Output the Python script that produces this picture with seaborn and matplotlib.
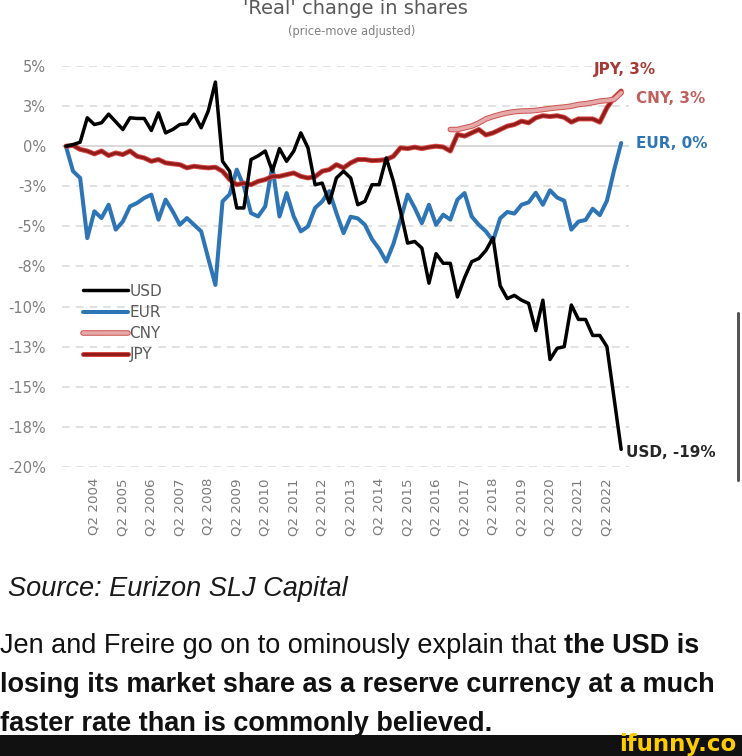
import matplotlib
matplotlib.use("Agg")
import matplotlib.pyplot as plt
import matplotlib.patheffects as pe
from matplotlib.patches import Rectangle, FancyBboxPatch
import seaborn as sns

# ---------------- data ----------------
quarters = [f"Q{q} {yr}" for yr in range(2003, 2023) for q in (1, 2, 3, 4)][1:]  # Q2 2003 .. Q4 2022

usd = [0, 0.1, 0.25, 1.77, 1.35, 1.46, 2.0, 1.52, 1.04, 1.77,
       1.73, 1.73, 0.98, 2.08, 0.83, 1.04, 1.35, 1.4, 2.0, 1.15,
       2.2, 4.0, -0.94, -1.56, -3.85, -3.85, -0.83, -0.6, -0.3, -1.56,
       -0.15, -0.94, -0.31, 0.83, -0.1, -2.4, -2.3, -3.54, -1.98, -1.56,
       -1.98, -3.65, -3.44, -2.4, -2.4, -0.73, -2.19, -4.06, -6.04, -5.94,
       -6.35, -8.54, -6.7, -7.3, -7.3, -9.4, -8.2, -7.2, -7.0, -6.5,
       -5.7, -8.7, -9.5, -9.3, -9.6, -9.8, -11.5, -9.6, -13.3, -12.6,
       -12.5, -9.9, -10.8, -10.8, -11.8, -11.8, -12.5, -15.7, -18.9]

eur = [0, -1.56, -1.98, -5.73, -4.06, -4.48, -3.65, -5.2, -4.69, -3.75,
       -3.54, -3.23, -3.02, -4.58, -3.33, -4.06, -4.9, -4.48, -4.9, -5.31,
       -7.0, -8.65, -3.44, -3.0, -1.46, -2.5, -4.17, -4.38, -3.75, -1.25,
       -4.38, -2.92, -4.38, -5.31, -5.0, -3.85, -3.44, -2.8, -4.17, -5.42,
       -4.4, -4.5, -4.9, -5.8, -6.4, -7.19, -6.1, -4.6, -3.02, -3.85,
       -4.8, -3.65, -4.9, -4.27, -4.58, -3.33, -2.92, -4.38, -4.9, -5.31,
       -5.9, -4.5, -4.1, -4.2, -3.65, -3.5, -2.9, -3.65, -2.75, -3.2,
       -3.4, -5.2, -4.7, -4.6, -3.9, -4.3, -3.4, -1.5, 0.2]

jpy = [0, 0.05, -0.2, -0.3, -0.48, -0.3, -0.58, -0.42, -0.52, -0.3,
       -0.63, -0.73, -0.94, -0.83, -1.04, -1.1, -1.15, -1.35, -1.25, -1.31,
       -1.35, -1.31, -1.56, -2.08, -2.4, -2.3, -2.4, -2.19, -2.08, -1.88,
       -1.88, -1.77, -1.67, -1.88, -1.98, -1.9, -1.56, -1.46, -1.15, -1.35,
       -1.04, -0.83, -0.83, -0.9, -0.88, -0.83, -0.63, -0.1, -0.15, -0.06,
       -0.15, -0.06, 0.0, -0.05, -0.3, 0.73, 0.63, 0.83, 1.04, 0.7,
       0.83, 1.04, 1.25, 1.35, 1.56, 1.46, 1.77, 1.9, 1.85, 1.9,
       1.8, 1.5, 1.7, 1.7, 1.7, 1.5, 2.4, 3.02, 3.44]

cny_start = "Q4 2016"
cny = [1.04, 1.04, 1.15, 1.25, 1.45, 1.7, 1.85, 1.98, 2.08, 2.15,
       2.19, 2.2, 2.23, 2.29, 2.35, 2.4, 2.44, 2.5, 2.6, 2.65,
       2.72, 2.81, 2.85, 2.92, 3.33]

ytick_vals = [5, 2.5, 0, -2.5, -5, -7.5, -10, -12.5, -15, -17.5, -20]
ytick_labels = ["5%", "3%", "0%", "-3%", "-5%", "-8%", "-10%", "-13%", "-15%", "-18%", "-20%"]

title = "'Real' change in shares"
subtitle = "(price-move adjusted)"
source = "Source: Eurizon SLJ Capital"
body_regular = "Jen and Freire go on to ominously explain that"
body_bold_1 = "the USD is"
body_bold_2 = "losing its market share as a reserve currency at a much"
body_bold_3 = "faster rate than is commonly believed."

# ---------------- style ----------------
sns.set_style("white")
plt.rcParams["font.family"] = ["DejaVu Sans"]

W, H = 742, 756
fig = plt.figure(figsize=(W / 100, H / 100), dpi=100)
fig.patch.set_facecolor("white")

ax = fig.add_axes([62 / W, 1 - 467 / H, 567 / W, 401 / H])
ax.set_facecolor("white")

x_idx = list(range(len(quarters)))
c0 = quarters.index(cny_start)
x_cny = x_idx[c0:c0 + len(cny)]

# grid
for v in ytick_vals:
    if v == 0:
        ax.axhline(v, color="#D6D6D6", lw=1.3, ls="-", zorder=0)
    else:
        ax.axhline(v, color="#D9D9D9", lw=1.1, ls=(0, (5, 4)), zorder=0)

sns.lineplot(x=x_idx, y=eur, color="#2E75B6", lw=2.9, label="EUR", ax=ax, zorder=3)
sns.lineplot(x=x_idx, y=jpy, color="#921C1A", lw=2.2, label="JPY", ax=ax, zorder=4,
             path_effects=[pe.Stroke(linewidth=3.6, foreground="#DA4A46"), pe.Normal()])
sns.lineplot(x=x_cny, y=cny, color="#E4A9A8", lw=2.6, label="CNY", ax=ax, zorder=5,
             path_effects=[pe.Stroke(linewidth=4.0, foreground="#CC524E"), pe.Normal()])
sns.lineplot(x=x_idx, y=usd, color="#000000", lw=2.5, label="USD", ax=ax, zorder=6)

ax.set_xlim(-0.55, 79.1)
ax.set_ylim(-20, 5)
for s in ax.spines.values():
    s.set_visible(False)

ax.set_yticks(ytick_vals)
ax.set_yticklabels(ytick_labels)
xt = [i for i, q in enumerate(quarters) if q.startswith("Q2") and i > 0]
ax.set_xticks(xt)
ax.set_xticklabels([quarters[i] for i in xt], rotation=90)
ax.tick_params(axis="y", length=0, pad=11.5, labelsize=10.5, labelcolor="#7F7F7F")
ax.tick_params(axis="x", length=0, pad=8, labelsize=9.6, labelcolor="#7A7A7A")
ax.set_xlabel("")
ax.set_ylabel("")
ax.grid(False)

# legend
h, l = ax.get_legend_handles_labels()
order = ["USD", "EUR", "CNY", "JPY"]
hd = dict(zip(l, h))
leg = ax.legend([hd[k] for k in order], order, loc="upper left",
                bbox_to_anchor=(0.037, 0.457), frameon=False, fontsize=11,
                handlelength=2.95, handletextpad=0.1, labelspacing=0.4,
                borderpad=0, borderaxespad=0)
for t in leg.get_texts():
    t.set_color("#595959")

# end labels
last = x_idx[-1]
ax.annotate(f"USD, {round(usd[-1])}%", xy=(last, usd[-1]), xytext=(5, -3),
            textcoords="offset pixels", ha="left", va="center", fontsize=11,
            fontweight="bold", color="#262626")
ax.annotate(f"EUR, {round(eur[-1])}%", xy=(last, eur[-1]), xytext=(15, -1),
            textcoords="offset pixels", ha="left", va="center", fontsize=11,
            fontweight="bold", color="#2E75B6", annotation_clip=False)
ax.annotate(f"CNY, {round(cny[-1])}%", xy=(last, cny[-1]), xytext=(15, -6),
            textcoords="offset pixels", ha="left", va="center", fontsize=11,
            fontweight="bold", color="#C0605C", annotation_clip=False)
ax.annotate(f"JPY, {round(jpy[-1])}%", xy=(last, jpy[-1]), xytext=(4, 22),
            textcoords="offset pixels", ha="center", va="center", fontsize=11,
            fontweight="bold", color="#A83A35", annotation_clip=False)

# titles
fig.text(355 / W, 1 - 14 / H, title, ha="center", va="baseline", fontsize=14, color="#595959")
fig.text(352 / W, 1 - 35 / H, subtitle, ha="center", va="baseline", fontsize=8.3, color="#808080")

# text below chart
body_font = ["Liberation Sans", "DejaVu Sans"]
fig.text(8 / W, 1 - 596 / H, source, ha="left", va="baseline", fontsize=19.5,
         style="italic", family=body_font, color="#1A1A1A")
t1 = fig.text(0, 1 - 653 / H, body_regular, ha="left", va="baseline", fontsize=19.5,
              family=body_font, color="#111111")
fig.canvas.draw()
r = fig.canvas.get_renderer()
bb = t1.get_window_extent(renderer=r)
fig.text((bb.x1 + 7.5) / W, 1 - 653 / H, body_bold_1, ha="left", va="baseline", fontsize=19.5,
         family=body_font, fontweight="bold", color="#111111")
fig.text(0, 1 - 692 / H, body_bold_2, ha="left", va="baseline", fontsize=19.5,
         family=body_font, fontweight="bold", color="#111111")
fig.text(0, 1 - 731 / H, body_bold_3, ha="left", va="baseline", fontsize=19.5,
         family=body_font, fontweight="bold", color="#111111")

# bottom bar with logo
fig.patches.append(Rectangle((0, 0), 1, 21 / H, transform=fig.transFigure,
                             facecolor="#111111", edgecolor="none", zorder=10))
fig.text(736 / W, 1 - 751 / H, "ifunny.co", ha="right", va="baseline", fontsize=16.5,
         fontweight="bold", color="#FFCC00", zorder=11)

# scroll indicator
fig.patches.append(FancyBboxPatch((737 / W, 1 - 482 / H), 3 / W, 170 / H,
                                  boxstyle="round,pad=0,rounding_size=0.002",
                                  transform=fig.transFigure, facecolor="#555555",
                                  edgecolor="none", zorder=10))

fig.savefig("out.png", dpi=100, facecolor="white")
